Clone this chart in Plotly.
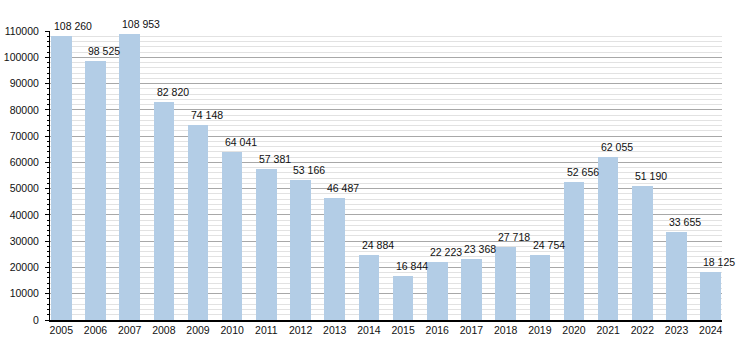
import plotly.graph_objects as go

years = [str(y) for y in range(2005, 2025)]
values = [108260, 98525, 108953, 82820, 74148, 64041, 57381, 53166, 46487, 24884,
          16844, 22223, 23368, 27718, 24754, 52656, 62055, 51190, 33655, 18125]

y_ticks = list(range(0, 110001, 10000))

BAR_W = 0.6
FONT = "Liberation Sans, Arial, sans-serif"
FS = 10.5

xs = list(range(len(years)))

fig = go.Figure()
fig.add_trace(go.Bar(
    x=xs, y=values, width=BAR_W,
    marker=dict(color="#b3cde6", line=dict(width=0)),
    hoverinfo="x+y",
))

# value labels, left-aligned on each bar's left edge
for i, v in enumerate(values):
    fig.add_annotation(
        x=i - BAR_W / 2, y=v, xref="x", yref="y",
        text=f"{v:,}".replace(",", " "),
        showarrow=False, xanchor="left", yanchor="bottom",
        xshift=1, yshift=2,
        font=dict(family=FONT, size=FS, color="#111"),
    )

fig.update_layout(
    width=740, height=350,
    margin=dict(l=50, r=18, t=31, b=30),
    paper_bgcolor="white", plot_bgcolor="white",
    showlegend=False, bargap=0,
    font=dict(family=FONT, size=FS, color="#111"),
)
fig.update_xaxes(
    automargin=False,
    range=[-0.33, len(years) - 1 + 0.33],
    tickmode="array", tickvals=xs, ticktext=years,
    showgrid=False, zeroline=False,
    showline=True, linecolor="#000", linewidth=1.5,
    ticks="", ticklen=0,
    tickfont=dict(family=FONT, size=FS, color="#111"),
)
fig.update_yaxes(
    automargin=False,
    range=[0, 110000],
    tickmode="array", tickvals=y_ticks, ticktext=[str(t) for t in y_ticks],
    showgrid=True, gridcolor="#a8a8a8", gridwidth=1,
    zeroline=False,
    showline=True, linecolor="#000", linewidth=1,
    ticks="outside", ticklen=4, tickcolor="#000", tickwidth=1,
    ticklabelstandoff=4,
    minor=dict(dtick=2000, tick0=0, ticks="outside", ticklen=2, tickcolor="#000",
               showgrid=True, gridcolor="#e2e2e2", gridwidth=1),
    tickfont=dict(family=FONT, size=FS, color="#111"),
)

fig.write_html("out.html")
